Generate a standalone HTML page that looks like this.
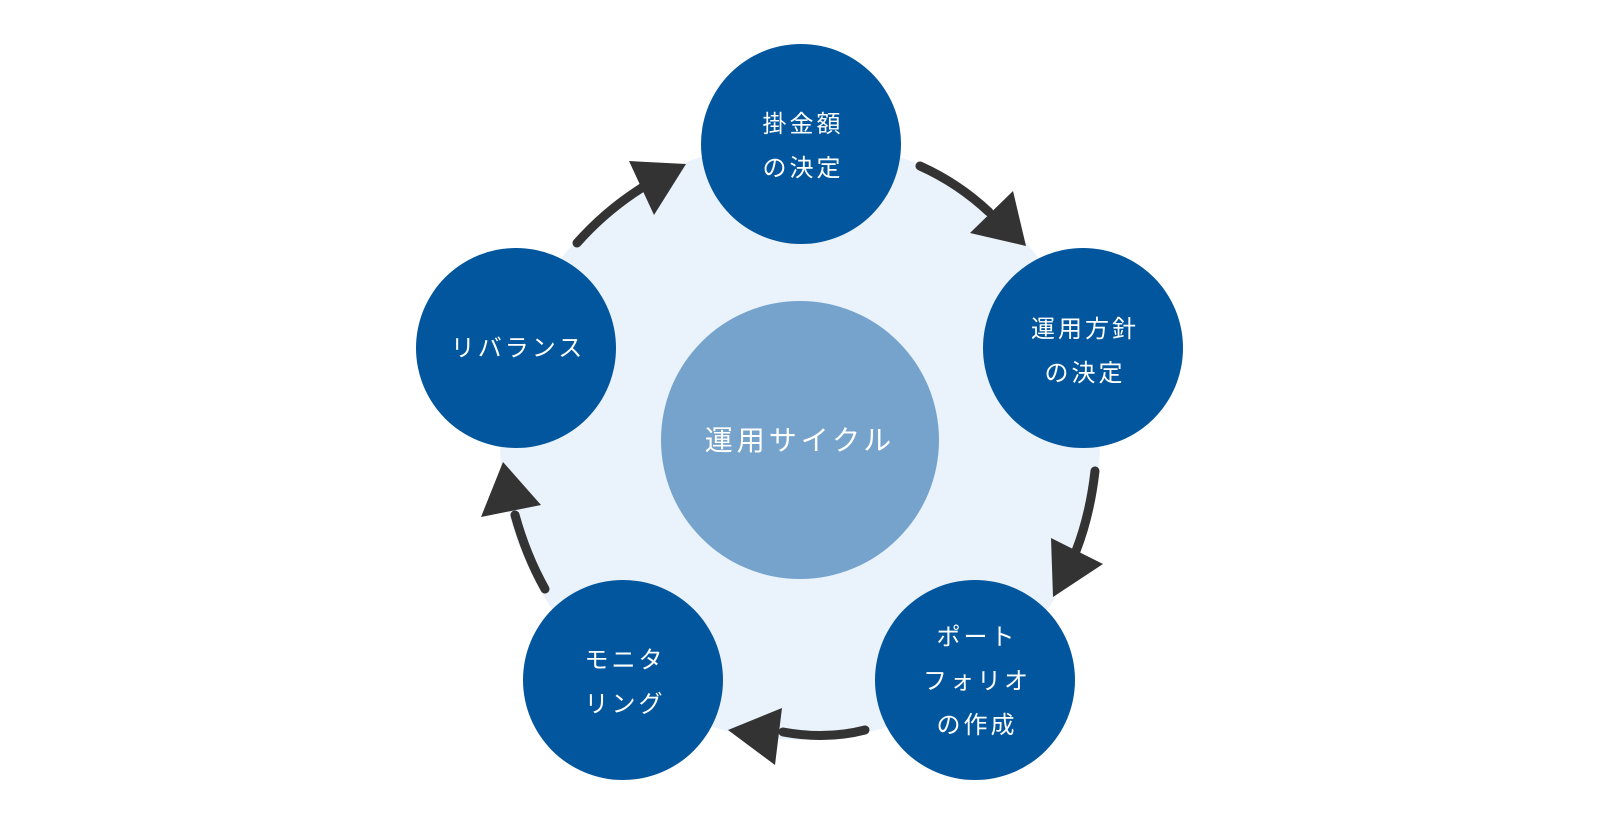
<!DOCTYPE html>
<html><head><meta charset="utf-8"><style>
html,body{margin:0;padding:0;background:#fff;width:1600px;height:824px;overflow:hidden}
svg text{font-family:"Liberation Sans","Noto Sans CJK JP",sans-serif;fill:#fff;text-anchor:middle}
</style></head><body>
<svg width="1600" height="824" viewBox="0 0 1600 824" xmlns="http://www.w3.org/2000/svg">
<circle cx="800" cy="440" r="300" fill="#eaf2fb"/>
<circle cx="800" cy="440" r="139" fill="#75a3cc"/>
<g fill="#02569e">
<circle cx="801" cy="144" r="100"/>
<circle cx="1083" cy="348" r="100"/>
<circle cx="975" cy="680" r="100"/>
<circle cx="623" cy="680" r="100"/>
<circle cx="516" cy="348" r="100"/>
</g>
<g stroke="#333" stroke-width="9" fill="none" stroke-linecap="round">
<path d="M577 243 Q608 208 648 184"/>
<path d="M920 166 Q958 183 989 212"/>
<path d="M1095 471 Q1090 515 1076 551"/>
<path d="M865 730 Q826 740 783 732"/>
<path d="M545 589 Q526 555 515 515"/>
</g>
<g fill="#333">
<polygon points="629,161 686,164 654,215"/>
<polygon points="1013,191 1026,246 970,233"/>
<polygon points="1051,538 1103,564 1053,597"/>
<polygon points="782,708 728,730 775,765"/>
<polygon points="481,517 503,462 541,505"/>
</g>
<g font-size="24" letter-spacing="3">
<text x="803" y="132">掛金額</text>
<text x="803" y="176">の決定</text>
<text x="1085" y="337">運用方針</text>
<text x="1085" y="381">の決定</text>
<text x="977" y="645">ポート</text>
<text x="977" y="689">フォリオ</text>
<text x="977" y="733">の作成</text>
<text x="625" y="668">モニタ</text>
<text x="625" y="712">リング</text>
<text x="518" y="356">リバランス</text>
</g>
<text x="800" y="450" font-size="28" letter-spacing="4">運用サイクル</text>
</svg>
</body></html>
